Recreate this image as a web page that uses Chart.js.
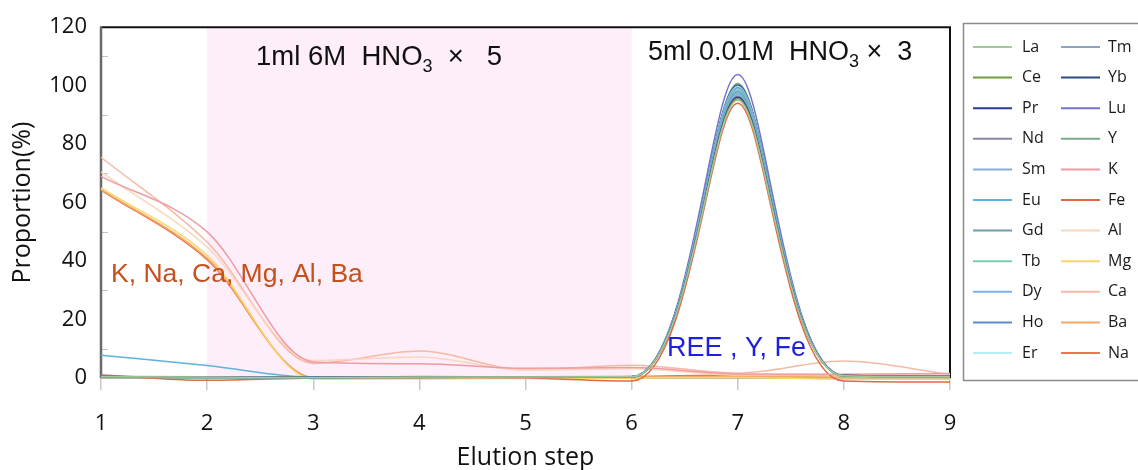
<!DOCTYPE html>
<html>
<head>
<meta charset="utf-8">
<script src="https://cdn.jsdelivr.net/npm/chart.js@4.4.1/dist/chart.umd.min.js"></script>
<style>
html,body{margin:0;padding:0;background:#fff;}
#wrap{width:1138px;height:470px;position:relative;overflow:hidden;}
</style>
</head>
<body>
<div id="wrap"><canvas id="c" width="1138" height="470"></canvas></div>
<script>
// ---------- data ----------
const steps = [1, 2, 3, 4, 5, 6, 7, 8, 9];
const yTicks = [0, 20, 40, 60, 80, 100, 120];
const names = ['La','Ce','Pr','Nd','Sm','Eu','Gd','Tb','Dy','Ho','Er','Tm','Yb','Lu','Y','K','Fe','Al','Mg','Ca','Ba','Na'];

const La = [0.4, 0.3, 0.2, 0.3, 0.3, 0.4, 95.0, 0.8, 0.5];
const Ce = [0.3, 0.2, 0.2, 0.2, 0.3, 0.3, 95.5, 0.7, 0.5];
const Pr = [0.5, 0.3, 0.3, 0.3, 0.3, 0.4, 96.0, 0.8, 0.6];
const Nd = [0.4, 0.3, 0.2, 0.3, 0.3, 0.4, 96.5, 0.8, 0.5];
const Sm = [0.6, 0.4, 0.3, 0.3, 0.3, 0.4, 97.0, 0.7, 0.5];
const Eu = [7.8, 4.3, 0.3, 0.3, 0.3, 0.5, 97.5, 0.8, 0.5];
const Gd = [0.5, 0.3, 0.2, 0.3, 0.3, 0.4, 98.0, 0.8, 0.5];
const Tb = [0.3, 0.2, 0.2, 0.3, 0.3, 0.3, 98.5, 0.7, 0.4];
const Dy = [0.3, 0.2, 0.2, 0.2, 0.3, 0.3, 99.0, 0.8, 0.5];
const Ho = [0.4, 0.3, 0.2, 0.3, 0.3, 0.4, 99.3, 0.8, 0.5];
const Er = [0.3, 0.2, 0.2, 0.2, 0.2, 0.3, 99.6, 0.7, 0.4];
const Tm = [0.4, 0.3, 0.2, 0.3, 0.3, 0.3, 99.8, 0.8, 0.5];
const Yb = [0.5, 0.3, 0.3, 0.3, 0.3, 0.4, 100.2, 0.9, 0.6];
const Lu = [0.4, 0.3, 0.2, 0.3, 0.3, 0.4, 103.8, 0.9, 0.6];
const Y  = [0.3, 0.2, 0.2, 0.2, 0.3, 0.3, 100.7, 0.8, 0.5];
const K  = [69.0, 50.0, 5.5, 4.9, 3.3, 3.6, 1.4, 1.3, 1.5];
const Fe = [1.0, -0.8, 0.0, 0.2, 0.0, -1.0, 94.0, -1.0, -1.4];
const Al = [70.5, 44.8, 6.0, 7.2, 2.7, 3.2, 1.0, 1.0, 1.0];
const Mg = [65.0, 42.0, -0.4, -0.3, -0.2, 0.0, 0.2, -0.4, -0.4];
const Ca = [75.5, 46.5, 5.0, 9.2, 2.8, 4.4, 1.7, 5.8, 1.2];
const Ba = [64.5, 41.0, 0.0, 0.3, 0.2, 0.3, 0.5, 0.3, 0.3];
const Na = [64.3, 40.5, 0.2, 0.5, 0.4, 0.5, 1.0, 0.9, 0.7];

const seriesValues = {La, Ce, Pr, Nd, Sm, Eu, Gd, Tb, Dy, Ho, Er, Tm, Yb, Lu, Y, K, Fe, Al, Mg, Ca, Ba, Na};

// ---------- styles ----------
const colors = {
  La:'#a4c89c', Ce:'#6f9c3e', Pr:'#2a3a9c', Nd:'#8a86a6', Sm:'#86aed4', Eu:'#5cb2de',
  Gd:'#6a9eb0', Tb:'#78ccb2', Dy:'#7cb2ea', Ho:'#5a8ec8', Er:'#b4ecfa', Tm:'#8aa4c2',
  Yb:'#2a4c80', Lu:'#7474d0', Y:'#76ac8a', K:'#f09aa4', Fe:'#de6a44', Al:'#f9d6bc',
  Mg:'#fad768', Ca:'#f5b9a4', Ba:'#f3aa64', Na:'#eb7650'
};

const datasets = names.map(n => ({
  label: n,
  data: seriesValues[n],
  borderColor: colors[n],
  backgroundColor: colors[n],
  borderWidth: 1.5,
  pointRadius: 0,
  pointHoverRadius: 0,
  fill: false,
  cubicInterpolationMode: 'monotone',
  clip: false
}));

// band for the 6M HNO3 stage (steps 2 to 6)
const bandFrom = 2, bandTo = 6;

// ---------- plugins ----------
const backdrop = {
  id: 'backdrop',
  beforeDatasetsDraw(chart) {
    const {ctx, chartArea: a, scales: {x, y}} = chart;
    ctx.save();
    const x1 = x.getPixelForValue(steps.indexOf(bandFrom));
    const x2 = x.getPixelForValue(steps.indexOf(bandTo));
    ctx.fillStyle = '#fdeefa';
    ctx.fillRect(x1, a.top, x2 - x1, a.bottom - a.top);
    // minor ticks on y axis (inside)
    ctx.strokeStyle = '#c4c4c4';
    ctx.lineWidth = 1;
    for (let i = 0; i < yTicks.length - 1; i++) {
      const v = (yTicks[i] + yTicks[i + 1]) / 2;
      const py = Math.round(y.getPixelForValue(v)) + 0.5;
      ctx.beginPath(); ctx.moveTo(a.left, py); ctx.lineTo(a.left + 7, py); ctx.stroke();
    }
    // frame
    ctx.strokeStyle = '#9a9a9a'; ctx.lineWidth = 1.5;
    ctx.beginPath(); ctx.moveTo(a.left, a.bottom); ctx.lineTo(a.right, a.bottom); ctx.stroke();
    ctx.strokeStyle = '#111'; ctx.lineWidth = 2;
    ctx.beginPath(); ctx.moveTo(a.left, a.top); ctx.lineTo(a.right, a.top); ctx.lineTo(a.right, a.bottom); ctx.stroke();
    ctx.strokeStyle = '#6a6a6a'; ctx.lineWidth = 2.5;
    ctx.beginPath(); ctx.moveTo(a.left, a.top - 1); ctx.lineTo(a.left, a.bottom); ctx.stroke();
    ctx.restore();
  }
};

// Shape tall single-step peaks: flat handles, longer at the base, shorter at the crest
const peakShape = {
  id: 'peakShape',
  beforeDatasetsDraw(chart) {
    const KA = 0.55, KB = 0.25;
    chart.data.datasets.forEach((ds, di) => {
      const meta = chart.getDatasetMeta(di);
      const line = meta.dataset;
      if (!line || !line.updateControlPoints) return;
      line.updateControlPoints(chart.chartArea, 'x');
      const pts = meta.data;
      for (let i = 0; i < pts.length - 1; i++) {
        const p = pts[i], q = pts[i + 1];
        const dx = q.x - p.x, dy = q.y - p.y;
        if (Math.abs(dy) < 150) continue;
        if (dy < 0) { // rising: p is base
          p.cp2x = p.x + KA * dx; q.cp1x = q.x - KB * dx;
        } else {      // falling: q is base
          p.cp2x = p.x + KB * dx; q.cp1x = q.x - KA * dx;
        }
        p.cp2y = p.y; q.cp1y = q.y;
      }
    });
  }
};

function drawSubText(ctx, x, baseline, parts) {
  let cx = x;
  parts.forEach(([txt, size, dy]) => {
    ctx.font = size + 'px "Liberation Sans", Arial, sans-serif';
    ctx.fillText(txt, cx, baseline + dy);
    cx += ctx.measureText(txt).width;
  });
}

const annotations = {
  id: 'annotations',
  afterDatasetsDraw(chart) {
    const {ctx} = chart;
    ctx.save();
    ctx.textBaseline = 'alphabetic';
    ctx.textAlign = 'left';
    ctx.fillStyle = '#111';
    drawSubText(ctx, 256, 65, [['1ml 6M  HNO', 27.5, 0], ['3', 18, 7], ['  \u00d7   5', 27.5, 0]]);
    drawSubText(ctx, 648, 60, [['5ml 0.01M  HNO', 27, 0], ['3', 18, 7], [' \u00d7  3', 27, 0]]);
    ctx.font = '26.5px "Liberation Sans", Arial, sans-serif';
    ctx.fillStyle = '#c4501c';
    ctx.fillText('K, Na, Ca, Mg, Al, Ba', 111, 282);
    ctx.font = '27px "Liberation Sans", Arial, sans-serif';
    ctx.fillStyle = '#1f1fe0';
    ctx.fillText('REE , Y, Fe', 667, 356);
    ctx.restore();
  }
};

const boxLegend = {
  id: 'boxLegend',
  afterDraw(chart) {
    const {ctx} = chart;
    const box = {x: 963.5, y: 23.5, w: 200, h: 357};
    const perCol = 11, row0 = 47, rowGap = 30.6;
    const lineX = [973, 1061], lineLen = 39, textX = [1022, 1108];
    ctx.save();
    ctx.strokeStyle = '#8a8a8a'; ctx.lineWidth = 1.5;
    ctx.strokeRect(box.x, box.y, box.w, box.h);
    ctx.font = '16px "Open Sans", sans-serif';
    ctx.textBaseline = 'middle';
    ctx.textAlign = 'left';
    chart.data.datasets.forEach((ds, i) => {
      const col = Math.floor(i / perCol), row = i % perCol;
      const yy = row0 + row * rowGap;
      ctx.strokeStyle = ds.borderColor; ctx.lineWidth = 2;
      ctx.beginPath(); ctx.moveTo(lineX[col], yy); ctx.lineTo(lineX[col] + lineLen, yy); ctx.stroke();
      ctx.fillStyle = '#1a1a1a';
      ctx.fillText(ds.label, textX[col], yy);
    });
    ctx.restore();
  }
};

new Chart(document.getElementById('c'), {
  type: 'line',
  data: { labels: steps, datasets },
  options: {
    responsive: false,
    animation: false,
    events: [],
    layout: { padding: { left: 0, right: 188, top: 22, bottom: 0 } },
    plugins: { legend: { display: false }, tooltip: { enabled: false } },
    scales: {
      x: {
        type: 'category',
        offset: false,
        afterFit: s => { s.height = 92; },
        grid: { drawOnChartArea: false, drawTicks: true, tickLength: 12, color: '#c8c8c8', lineWidth: 1.5 },
        border: { display: false },
        ticks: { color: '#111', font: { family: '"Open Sans", sans-serif', size: 22 }, padding: 21, maxRotation: 0, autoSkip: false },
        title: { display: true, text: 'Elution step', color: '#111', font: { family: '"Open Sans", sans-serif', size: 25, lineHeight: 1 }, padding: { top: 0, bottom: 0 } }
      },
      y: {
        min: 0, max: 120,
        afterFit: s => { s.width = 101; },
        afterBuildTicks: s => { s.ticks = yTicks.map(v => ({ value: v })); },
        grid: { display: false, drawTicks: false },
        border: { display: false },
        ticks: { color: '#111', font: { family: '"Open Sans", sans-serif', size: 22 }, padding: 14 },
        title: { display: true, text: 'Proportion(%)', color: '#111', font: { family: '"Open Sans", sans-serif', size: 25, lineHeight: 1 }, padding: { top: 10, bottom: 0 } }
      }
    }
  },
  plugins: [backdrop, peakShape, annotations, boxLegend]
});
</script>
</body>
</html>
